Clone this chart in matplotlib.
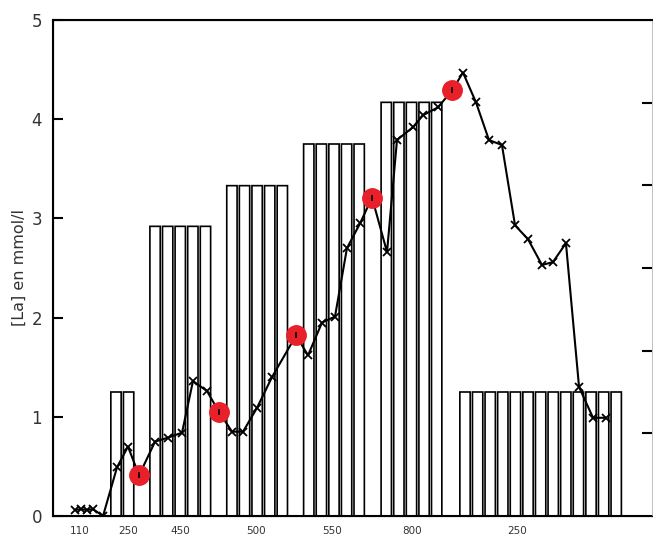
import matplotlib.pyplot as plt

# paliers (barres): centre de la 1re barre, nombre de barres, hauteur
palier_debut = [5.0, 8.1, 14.2, 20.3, 26.45, 32.7]
palier_nb = [2, 5, 5, 5, 5, 13]
palier_haut = [1.25, 2.92, 3.33, 3.75, 4.17, 1.25]

# courbe du lactate
temps = [1.75, 2.22, 2.70, 3.17, 3.97, 5.08, 5.95, 6.83, 8.10, 9.13, 10.24, 11.11,
         12.22, 13.17, 14.21, 15.08, 16.19, 17.38, 19.29, 20.24, 21.35, 22.38, 23.33,
         24.37, 25.32, 26.51, 27.30, 28.57, 29.37, 30.56, 31.67, 32.54, 33.57, 34.60,
         35.63, 36.67, 37.70, 38.81, 39.68, 40.71, 41.75, 42.86, 43.89]
lactate = [0.06, 0.07, 0.06, 0.07, 0.0, 0.49, 0.70, 0.41, 0.75, 0.79, 0.84, 1.36,
           1.26, 1.05, 0.85, 0.85, 1.09, 1.40, 1.82, 1.62, 1.95, 2.01, 2.70,
           2.95, 3.21, 2.66, 3.79, 3.92, 4.04, 4.12, 4.29, 4.47, 4.17, 3.79,
           3.74, 2.93, 2.79, 2.53, 2.56, 2.75, 1.30, 0.99, 0.99]
rouges = [7, 13, 18, 24, 30]  # points entoures en rouge

xt_pos = [2.14, 5.95, 10.08, 16.11, 22.14, 28.5, 36.8]
xt_lab = ["110", "250", "450", "500", "550", "800", "250"]

gris = "#333333"
fig = plt.figure(figsize=(6.53, 5.37), dpi=100)
ax = fig.add_axes([53 / 653, 1 - 516 / 537, 599 / 653, 496 / 537])

for d, n, h in zip(palier_debut, palier_nb, palier_haut):
    xs = [d + i for i in range(n)]
    barres = ax.bar(xs, [h] * n, width=0.82, facecolor="white", edgecolor="black",
                    linewidth=1.2, zorder=1)
    for b in barres:
        b.set_snap(False)

ax.plot(temps, lactate, color="black", lw=1.5, marker="x", ms=6, mew=1.3, zorder=3)
ax.plot([temps[i] for i in rouges], [lactate[i] for i in rouges], ls="none",
        marker="o", ms=14, mfc="#e8202a", mec="#e8202a", zorder=4)
ax.plot([temps[i] for i in rouges], [lactate[i] for i in rouges], ls="none",
        marker="|", ms=4, mec="black", mew=1.2, zorder=5)

ax.set_xlim(0, 599 / 12.6)
ax.set_ylim(0, 5)
ax.set_yticks([0, 1, 2, 3, 4, 5])
ax.tick_params(axis="y", direction="in", length=7, width=1.5, labelsize=12,
               labelcolor=gris, pad=8)
ax.set_xticks(xt_pos)
ax.set_xticklabels(xt_lab)
ax.tick_params(axis="x", length=0, labelsize=7.5, labelcolor=gris, pad=7)
ax.set_ylabel("[La] en mmol/l", fontsize=11.5, color=gris, labelpad=3)
for s in ax.spines.values():
    s.set_linewidth(1.5)
ax.spines["right"].set_linewidth(0.5)
ax.spines["right"].set_color("#bbbbbb")

ax2 = ax.twinx()
ax2.set_ylim(0, 6)
ax2.set_yticks([1, 2, 3, 4, 5])
ax2.tick_params(axis="y", direction="in", length=7, width=1.5, labelright=False)
ax2.spines["right"].set_linewidth(0.5)
ax2.spines["right"].set_color("#bbbbbb")

fig.savefig("out.png", dpi=100)
